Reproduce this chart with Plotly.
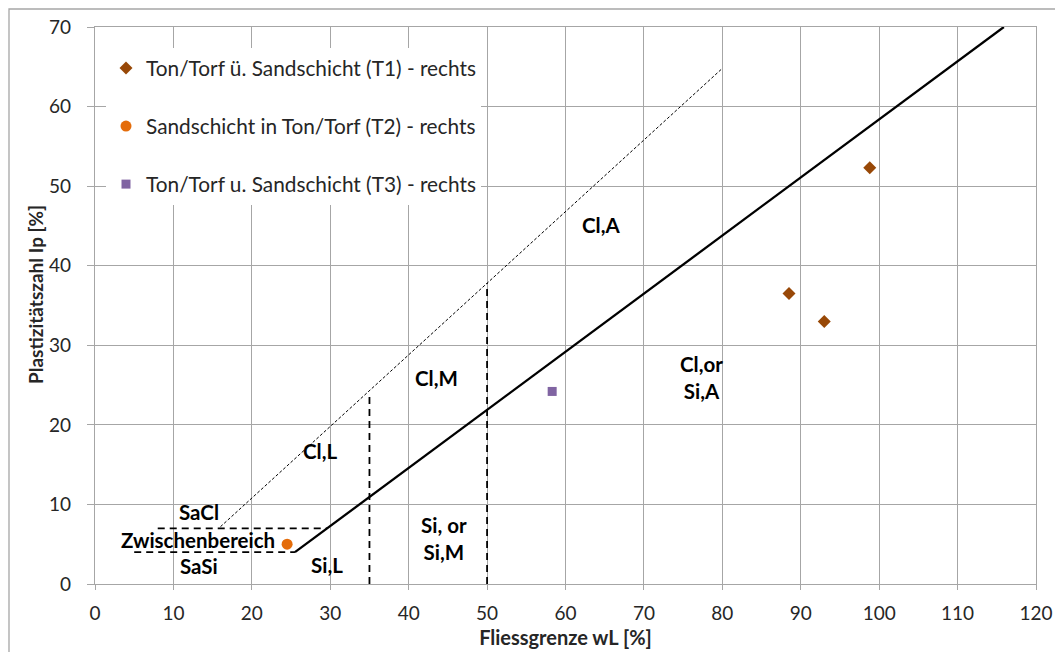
import plotly.graph_objects as go

# ---- data ----
t1_wl = [98.8, 88.5, 93.0]
t1_ip = [52.3, 36.5, 33.0]
t2_wl = [24.5]
t2_ip = [5.0]
t3_wl = [58.3]
t3_ip = [24.2]

series_names = [
    "Ton/Torf ü. Sandschicht (T1) - rechts",
    "Sandschicht in Ton/Torf (T2) - rechts",
    "Ton/Torf u. Sandschicht (T3) - rechts",
]

# boundary lines of the plasticity chart
a_line_wl = [25.5, 115.9]
a_line_ip = [4.0, 70.0]
u_line_wl = [16.0, 80.0]
u_line_ip = [7.2, 64.8]
v35_wl = [35, 35]
v35_ip = [0, 24.0]
v50_wl = [50, 50]
v50_ip = [0, 37.8]
h7_wl = [8.0, 29.6]
h7_ip = [7, 7]
h4_wl = [5.0, 25.5]
h4_ip = [4, 4]

region_labels = ["Cl,A", "Cl,M", "Cl,or<br>Si,A", "Cl,L", "Si, or<br>Si,M", "Si,L",
                 "SaCl", "Zwischenbereich", "SaSi"]
region_wl = [64.5, 43.6, 77.4, 28.7, 44.5, 29.6, 13.3, 13.1, 13.3]
region_ip = [45.1, 25.9, 25.9, 16.7, 5.7, 2.4, 9.0, 5.5, 2.3]

x_ticks = list(range(0, 121, 10))
y_ticks = list(range(0, 71, 10))

FONT = "Lato"
GRID = "#a6a6a6"
TXT = "#262626"

fig = go.Figure()

def add_line(x, y, width, dash):
    fig.add_trace(go.Scatter(x=x, y=y, mode="lines", showlegend=False, hoverinfo="skip",
                             line=dict(color="black", width=width, dash=dash)))

add_line(a_line_wl, a_line_ip, 2.3, "solid")
add_line(u_line_wl, u_line_ip, 1, "3px,2px")
add_line(v35_wl, v35_ip, 1.8, "7px,5px")
add_line(v50_wl, v50_ip, 1.8, "7px,5px")
add_line(h7_wl, h7_ip, 1.8, "7px,5px")
add_line(h4_wl, h4_ip, 1.8, "7px,5px")

fig.add_trace(go.Scatter(x=t1_wl, y=t1_ip, mode="markers", name=series_names[0],
                         legendgroup="g1",
                         marker=dict(symbol="diamond", size=10, color="#984807")))
fig.add_trace(go.Scatter(x=t2_wl, y=t2_ip, mode="markers", name=series_names[1],
                         legendgroup="g2",
                         marker=dict(symbol="circle", size=11, color="#E46C0A")))
fig.add_trace(go.Scatter(x=t3_wl, y=t3_ip, mode="markers", name=series_names[2],
                         legendgroup="g3",
                         marker=dict(symbol="square", size=9, color="#8064A2")))

for txt, x, y in zip(region_labels, region_wl, region_ip):
    fig.add_annotation(x=x, y=y, text=txt, showarrow=False,
                       font=dict(family=FONT, size=20.5, color="black", weight="bold"))

# page body has an 8px margin; figure coordinates = screen - 8
W, H = 1055, 644
L, R, T, B = 87, 27, 19, 68
pw, ph = W - L - R, H - T - B

# outer chart border
fig.add_shape(type="rect", xref="paper", yref="paper",
              x0=(1 - L) / pw, x1=1 + (R + 20) / pw,
              y0=-(B + 20) / ph, y1=1 + (T - 1) / ph,
              line=dict(color="#a6a6a6", width=1.3), layer="below")

# y-axis title (placed as rotated text, slightly above centre like the reference)
fig.add_annotation(xref="paper", yref="paper", x=(27 - L) / pw, y=(576 - 287) / ph,
                   text="<b>Plastizitätszahl Ip [%]</b>", textangle=-90, showarrow=False,
                   xanchor="center", yanchor="middle",
                   font=dict(family=FONT, size=19, color=TXT))

fig.update_layout(
    width=W, height=H,
    margin=dict(l=L, r=R, t=T, b=B, autoexpand=False),
    paper_bgcolor="white", plot_bgcolor="white",
    font=dict(family=FONT, size=19, color=TXT),
    legend=dict(x=(98 - L) / pw, y=1 - (40 - T) / ph, xanchor="left", yanchor="top",
                bgcolor="white", font=dict(family=FONT, size=20.8, color=TXT),
                traceorder="grouped", tracegroupgap=28, itemwidth=30),
    xaxis=dict(range=[0, 120], tickvals=x_ticks, showgrid=True, gridcolor=GRID, gridwidth=1,
               showline=True, linecolor=GRID, linewidth=1.3, mirror=True,
               ticks="outside", ticklen=5, tickcolor=GRID, zeroline=False,
               ticklabelstandoff=7,
               tickfont=dict(family=FONT, size=19, color=TXT),
               title=dict(text="<b>Fliessgrenze wL [%]</b>", standoff=8,
                          font=dict(family=FONT, size=20, color=TXT))),
    yaxis=dict(range=[0, 70], tickvals=y_ticks, showgrid=True, gridcolor=GRID, gridwidth=1,
               showline=True, linecolor=GRID, linewidth=1.3, mirror=True,
               ticks="outside", ticklen=7, tickcolor=GRID, zeroline=False,
               ticklabelstandoff=12,
               tickfont=dict(family=FONT, size=19, color=TXT)),
)

fig.write_html("out.html")
